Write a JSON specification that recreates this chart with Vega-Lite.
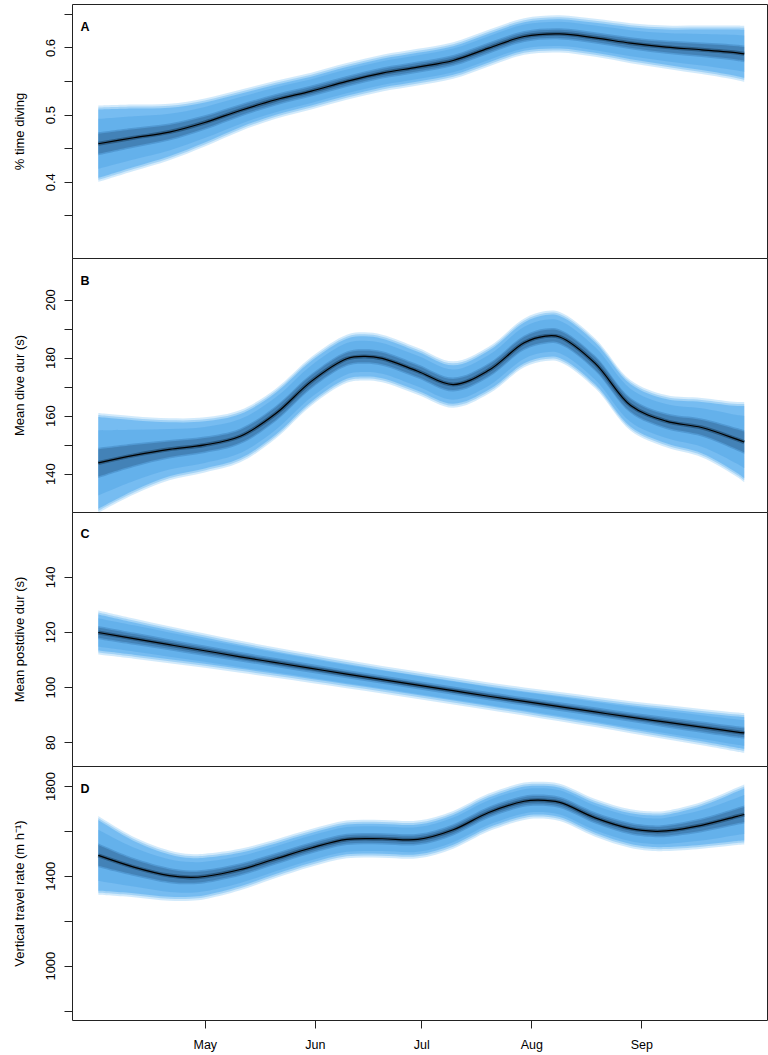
{
  "$schema": "https://vega.github.io/schema/vega-lite/v6.json",
  "padding": {"left": 12, "top": 3, "right": 2, "bottom": 5},
  "spacing": 0,
  "bounds": "flush",
  "config": {
    "font": "Liberation Sans",
    "view": {"stroke": "#222", "strokeWidth": 1},
    "axis": {"labelFont": "Liberation Sans", "titleFont": "Liberation Sans", "labelFontSize": 13, "titleFontSize": 13, "titleFontWeight": "normal", "labelFontWeight": "normal", "labelColor": "#000", "titleColor": "#000", "tickColor": "#222", "domain": false, "grid": false, "tickSize": 8, "labelOverlap": false, "labelFlush": false},
    "axisLeft": {"labelAngle": 270, "labelAlign": "center", "labelBaseline": "alphabetic", "labelPadding": 10, "minExtent": 28, "maxExtent": 28, "titlePadding": 18}
  },
  "resolve": {"scale": {"x": "independent", "y": "independent"}},
  "datasets": {
    "A": [
      {"date": "2013-04-01", "m": 0.4566, "lo1": 0.3996, "hi1": 0.5136, "lo2": 0.4195, "hi2": 0.4937, "lo3": 0.4395, "hi3": 0.4737},
      {"date": "2013-04-11", "m": 0.4655, "lo1": 0.4159, "hi1": 0.5151, "lo2": 0.4333, "hi2": 0.4977, "lo3": 0.4506, "hi3": 0.4804},
      {"date": "2013-04-21", "m": 0.474, "lo1": 0.432, "hi1": 0.516, "lo2": 0.4467, "hi2": 0.5013, "lo3": 0.4614, "hi3": 0.4866},
      {"date": "2013-05-01", "m": 0.4883, "lo1": 0.4526, "hi1": 0.524, "lo2": 0.4651, "hi2": 0.5115, "lo3": 0.4776, "hi3": 0.499},
      {"date": "2013-05-11", "m": 0.5062, "lo1": 0.4754, "hi1": 0.537, "lo2": 0.4862, "hi2": 0.5262, "lo3": 0.497, "hi3": 0.5154},
      {"date": "2013-05-21", "m": 0.5221, "lo1": 0.4938, "hi1": 0.5504, "lo2": 0.5037, "hi2": 0.5405, "lo3": 0.5136, "hi3": 0.5306},
      {"date": "2013-05-31", "m": 0.535, "lo1": 0.5077, "hi1": 0.5623, "lo2": 0.5173, "hi2": 0.5527, "lo3": 0.5268, "hi3": 0.5432},
      {"date": "2013-06-10", "m": 0.5494, "lo1": 0.5221, "hi1": 0.5767, "lo2": 0.5317, "hi2": 0.5671, "lo3": 0.5412, "hi3": 0.5576},
      {"date": "2013-06-20", "m": 0.5618, "lo1": 0.5345, "hi1": 0.5891, "lo2": 0.5441, "hi2": 0.5795, "lo3": 0.5536, "hi3": 0.57},
      {"date": "2013-06-30", "m": 0.5707, "lo1": 0.5434, "hi1": 0.598, "lo2": 0.553, "hi2": 0.5884, "lo3": 0.5625, "hi3": 0.5789},
      {"date": "2013-07-10", "m": 0.5806, "lo1": 0.5533, "hi1": 0.6079, "lo2": 0.5629, "hi2": 0.5983, "lo3": 0.5724, "hi3": 0.5888},
      {"date": "2013-07-20", "m": 0.599, "lo1": 0.5717, "hi1": 0.6263, "lo2": 0.5813, "hi2": 0.6167, "lo3": 0.5908, "hi3": 0.6072},
      {"date": "2013-07-30", "m": 0.6163, "lo1": 0.589, "hi1": 0.6436, "lo2": 0.5986, "hi2": 0.634, "lo3": 0.6081, "hi3": 0.6245},
      {"date": "2013-08-09", "m": 0.6203, "lo1": 0.5925, "hi1": 0.6481, "lo2": 0.6022, "hi2": 0.6384, "lo3": 0.612, "hi3": 0.6286},
      {"date": "2013-08-19", "m": 0.6143, "lo1": 0.586, "hi1": 0.6426, "lo2": 0.5959, "hi2": 0.6327, "lo3": 0.6058, "hi3": 0.6228},
      {"date": "2013-08-29", "m": 0.6064, "lo1": 0.5766, "hi1": 0.6362, "lo2": 0.587, "hi2": 0.6258, "lo3": 0.5975, "hi3": 0.6153},
      {"date": "2013-09-08", "m": 0.6005, "lo1": 0.5683, "hi1": 0.6327, "lo2": 0.5796, "hi2": 0.6214, "lo3": 0.5908, "hi3": 0.6102},
      {"date": "2013-09-18", "m": 0.5965, "lo1": 0.5603, "hi1": 0.6327, "lo2": 0.573, "hi2": 0.62, "lo3": 0.5856, "hi3": 0.6074},
      {"date": "2013-09-28", "m": 0.592, "lo1": 0.5513, "hi1": 0.6327, "lo2": 0.5655, "hi2": 0.6185, "lo3": 0.5798, "hi3": 0.6042},
      {"date": "2013-09-30", "m": 0.5905, "lo1": 0.5488, "hi1": 0.6322, "lo2": 0.5634, "hi2": 0.6176, "lo3": 0.578, "hi3": 0.603}
    ],
    "B": [
      {"date": "2013-04-01", "m": 143.7, "lo1": 126.5, "hi1": 160.9, "lo2": 132.5, "hi2": 154.9, "lo3": 138.5, "hi3": 148.9},
      {"date": "2013-04-11", "m": 146.3, "lo1": 132.8, "hi1": 159.8, "lo2": 137.5, "hi2": 155.1, "lo3": 142.3, "hi3": 150.4},
      {"date": "2013-04-21", "m": 148.4, "lo1": 137.7, "hi1": 159.1, "lo2": 141.4, "hi2": 155.4, "lo3": 145.2, "hi3": 151.6},
      {"date": "2013-05-01", "m": 149.9, "lo1": 140.4, "hi1": 159.4, "lo2": 143.7, "hi2": 156.1, "lo3": 147.1, "hi3": 152.8},
      {"date": "2013-05-11", "m": 152.9, "lo1": 143.9, "hi1": 161.9, "lo2": 147.1, "hi2": 158.8, "lo3": 150.2, "hi3": 155.6},
      {"date": "2013-05-21", "m": 160.7, "lo1": 152.1, "hi1": 169.3, "lo2": 155.1, "hi2": 166.3, "lo3": 158.1, "hi3": 163.3},
      {"date": "2013-05-31", "m": 171.8, "lo1": 163.4, "hi1": 180.2, "lo2": 166.3, "hi2": 177.3, "lo3": 169.3, "hi3": 174.3},
      {"date": "2013-06-10", "m": 179.6, "lo1": 171.3, "hi1": 187.9, "lo2": 174.2, "hi2": 185.0, "lo3": 177.1, "hi3": 182.1},
      {"date": "2013-06-15", "m": 180.4, "lo1": 172.1, "hi1": 188.7, "lo2": 175.0, "hi2": 185.8, "lo3": 177.9, "hi3": 182.9},
      {"date": "2013-06-20", "m": 179.7, "lo1": 171.5, "hi1": 187.9, "lo2": 174.4, "hi2": 185.0, "lo3": 177.2, "hi3": 182.2},
      {"date": "2013-06-30", "m": 175.3, "lo1": 167.2, "hi1": 183.4, "lo2": 170.0, "hi2": 180.6, "lo3": 172.9, "hi3": 177.7},
      {"date": "2013-07-10", "m": 170.7, "lo1": 162.7, "hi1": 178.7, "lo2": 165.5, "hi2": 175.9, "lo3": 168.3, "hi3": 173.1},
      {"date": "2013-07-20", "m": 175.6, "lo1": 167.5, "hi1": 183.7, "lo2": 170.3, "hi2": 180.9, "lo3": 173.2, "hi3": 178.0},
      {"date": "2013-07-30", "m": 185.1, "lo1": 176.7, "hi1": 193.5, "lo2": 179.6, "hi2": 190.6, "lo3": 182.6, "hi3": 187.6},
      {"date": "2013-08-05", "m": 187.4, "lo1": 178.8, "hi1": 196.0, "lo2": 181.8, "hi2": 193.0, "lo3": 184.8, "hi3": 190.0},
      {"date": "2013-08-09", "m": 187.1, "lo1": 178.5, "hi1": 195.7, "lo2": 181.5, "hi2": 192.7, "lo3": 184.5, "hi3": 189.7},
      {"date": "2013-08-19", "m": 178.0, "lo1": 169.4, "hi1": 186.6, "lo2": 172.4, "hi2": 183.6, "lo3": 175.4, "hi3": 180.6},
      {"date": "2013-08-29", "m": 163.5, "lo1": 154.8, "hi1": 172.2, "lo2": 157.8, "hi2": 169.2, "lo3": 160.9, "hi3": 166.1},
      {"date": "2013-09-08", "m": 158.1, "lo1": 149.1, "hi1": 167.1, "lo2": 152.3, "hi2": 164.0, "lo3": 155.4, "hi3": 160.8},
      {"date": "2013-09-18", "m": 155.9, "lo1": 145.7, "hi1": 166.1, "lo2": 149.3, "hi2": 162.5, "lo3": 152.8, "hi3": 159.0},
      {"date": "2013-09-28", "m": 151.8, "lo1": 138.9, "hi1": 164.7, "lo2": 143.4, "hi2": 160.2, "lo3": 147.9, "hi3": 155.7},
      {"date": "2013-09-30", "m": 150.9, "lo1": 137.1, "hi1": 164.7, "lo2": 141.9, "hi2": 159.9, "lo3": 146.8, "hi3": 155.0}
    ],
    "C": [
      {"date": "2013-04-01", "m": 119.8, "lo1": 111.8, "hi1": 127.8, "lo2": 114.6, "hi2": 125.0, "lo3": 117.4, "hi3": 122.2},
      {"date": "2013-04-11", "m": 117.6, "lo1": 110.3, "hi1": 124.9, "lo2": 112.9, "hi2": 122.4, "lo3": 115.4, "hi3": 119.8},
      {"date": "2013-04-21", "m": 115.4, "lo1": 108.7, "hi1": 122.1, "lo2": 111.0, "hi2": 119.8, "lo3": 113.4, "hi3": 117.4},
      {"date": "2013-05-01", "m": 113.2, "lo1": 107.0, "hi1": 119.4, "lo2": 109.2, "hi2": 117.2, "lo3": 111.3, "hi3": 115.1},
      {"date": "2013-05-11", "m": 111.0, "lo1": 105.2, "hi1": 116.8, "lo2": 107.2, "hi2": 114.8, "lo3": 109.3, "hi3": 112.7},
      {"date": "2013-05-21", "m": 108.9, "lo1": 103.4, "hi1": 114.4, "lo2": 105.3, "hi2": 112.5, "lo3": 107.3, "hi3": 110.6},
      {"date": "2013-05-31", "m": 106.8, "lo1": 101.5, "hi1": 112.1, "lo2": 103.4, "hi2": 110.3, "lo3": 105.2, "hi3": 108.4},
      {"date": "2013-06-10", "m": 104.7, "lo1": 99.6, "hi1": 109.8, "lo2": 101.4, "hi2": 108.0, "lo3": 103.2, "hi3": 106.2},
      {"date": "2013-06-20", "m": 102.7, "lo1": 97.7, "hi1": 107.7, "lo2": 99.5, "hi2": 106.0, "lo3": 101.2, "hi3": 104.2},
      {"date": "2013-06-30", "m": 100.7, "lo1": 95.7, "hi1": 105.7, "lo2": 97.5, "hi2": 104.0, "lo3": 99.2, "hi3": 102.2},
      {"date": "2013-07-10", "m": 98.7, "lo1": 93.7, "hi1": 103.7, "lo2": 95.5, "hi2": 102.0, "lo3": 97.2, "hi3": 100.2},
      {"date": "2013-07-20", "m": 96.7, "lo1": 91.7, "hi1": 101.7, "lo2": 93.5, "hi2": 100.0, "lo3": 95.2, "hi3": 98.2},
      {"date": "2013-07-30", "m": 94.8, "lo1": 89.7, "hi1": 99.9, "lo2": 91.5, "hi2": 98.1, "lo3": 93.3, "hi3": 96.3},
      {"date": "2013-08-09", "m": 92.9, "lo1": 87.6, "hi1": 98.2, "lo2": 89.5, "hi2": 96.4, "lo3": 91.3, "hi3": 94.5},
      {"date": "2013-08-19", "m": 91.0, "lo1": 85.5, "hi1": 96.5, "lo2": 87.4, "hi2": 94.6, "lo3": 89.4, "hi3": 92.7},
      {"date": "2013-08-29", "m": 89.1, "lo1": 83.3, "hi1": 94.9, "lo2": 85.3, "hi2": 92.9, "lo3": 87.4, "hi3": 90.8},
      {"date": "2013-09-08", "m": 87.3, "lo1": 81.1, "hi1": 93.5, "lo2": 83.3, "hi2": 91.3, "lo3": 85.4, "hi3": 89.2},
      {"date": "2013-09-18", "m": 85.5, "lo1": 78.9, "hi1": 92.1, "lo2": 81.2, "hi2": 89.8, "lo3": 83.5, "hi3": 87.5},
      {"date": "2013-09-28", "m": 83.7, "lo1": 76.6, "hi1": 90.8, "lo2": 79.1, "hi2": 88.3, "lo3": 81.6, "hi3": 85.8},
      {"date": "2013-09-30", "m": 83.4, "lo1": 76.2, "hi1": 90.6, "lo2": 78.7, "hi2": 88.1, "lo3": 81.2, "hi3": 85.6}
    ],
    "D": [
      {"date": "2013-04-01", "m": 1491, "lo1": 1316, "hi1": 1666, "lo2": 1377, "hi2": 1605, "lo3": 1438, "hi3": 1544},
      {"date": "2013-04-11", "m": 1439, "lo1": 1305, "hi1": 1573, "lo2": 1352, "hi2": 1526, "lo3": 1399, "hi3": 1479},
      {"date": "2013-04-21", "m": 1401, "lo1": 1289, "hi1": 1513, "lo2": 1328, "hi2": 1474, "lo3": 1367, "hi3": 1435},
      {"date": "2013-04-27", "m": 1393, "lo1": 1289, "hi1": 1497, "lo2": 1325, "hi2": 1461, "lo3": 1362, "hi3": 1424},
      {"date": "2013-05-01", "m": 1397, "lo1": 1296, "hi1": 1498, "lo2": 1331, "hi2": 1463, "lo3": 1367, "hi3": 1427},
      {"date": "2013-05-11", "m": 1428, "lo1": 1336, "hi1": 1520, "lo2": 1368, "hi2": 1488, "lo3": 1400, "hi3": 1456},
      {"date": "2013-05-21", "m": 1476, "lo1": 1390, "hi1": 1562, "lo2": 1420, "hi2": 1532, "lo3": 1450, "hi3": 1502},
      {"date": "2013-05-31", "m": 1524, "lo1": 1440, "hi1": 1608, "lo2": 1469, "hi2": 1579, "lo3": 1499, "hi3": 1549},
      {"date": "2013-06-10", "m": 1562, "lo1": 1478, "hi1": 1646, "lo2": 1507, "hi2": 1617, "lo3": 1537, "hi3": 1587},
      {"date": "2013-06-20", "m": 1565, "lo1": 1481, "hi1": 1649, "lo2": 1510, "hi2": 1620, "lo3": 1540, "hi3": 1590},
      {"date": "2013-06-30", "m": 1562, "lo1": 1478, "hi1": 1646, "lo2": 1507, "hi2": 1617, "lo3": 1537, "hi3": 1587},
      {"date": "2013-07-10", "m": 1605, "lo1": 1521, "hi1": 1689, "lo2": 1550, "hi2": 1660, "lo3": 1580, "hi3": 1630},
      {"date": "2013-07-20", "m": 1682, "lo1": 1598, "hi1": 1766, "lo2": 1627, "hi2": 1737, "lo3": 1657, "hi3": 1707},
      {"date": "2013-07-30", "m": 1732, "lo1": 1649, "hi1": 1815, "lo2": 1678, "hi2": 1786, "lo3": 1707, "hi3": 1757},
      {"date": "2013-08-03", "m": 1737, "lo1": 1655, "hi1": 1819, "lo2": 1684, "hi2": 1790, "lo3": 1712, "hi3": 1762},
      {"date": "2013-08-09", "m": 1727, "lo1": 1644, "hi1": 1810, "lo2": 1673, "hi2": 1781, "lo3": 1702, "hi3": 1752},
      {"date": "2013-08-19", "m": 1658, "lo1": 1574, "hi1": 1742, "lo2": 1603, "hi2": 1713, "lo3": 1633, "hi3": 1683},
      {"date": "2013-08-29", "m": 1610, "lo1": 1524, "hi1": 1696, "lo2": 1554, "hi2": 1666, "lo3": 1584, "hi3": 1636},
      {"date": "2013-09-05", "m": 1598, "lo1": 1510, "hi1": 1686, "lo2": 1541, "hi2": 1655, "lo3": 1572, "hi3": 1624},
      {"date": "2013-09-08", "m": 1600, "lo1": 1510, "hi1": 1690, "lo2": 1542, "hi2": 1659, "lo3": 1573, "hi3": 1627},
      {"date": "2013-09-18", "m": 1625, "lo1": 1521, "hi1": 1729, "lo2": 1557, "hi2": 1693, "lo3": 1594, "hi3": 1656},
      {"date": "2013-09-28", "m": 1665, "lo1": 1537, "hi1": 1793, "lo2": 1582, "hi2": 1748, "lo3": 1627, "hi3": 1703},
      {"date": "2013-09-30", "m": 1673, "lo1": 1539, "hi1": 1807, "lo2": 1586, "hi2": 1760, "lo3": 1633, "hi3": 1713}
    ]
  },
  "vconcat": [
    {
      "width": 695, "height": 254,
      "data": {"name": "A"},
      "layer": [
        {"mark": {"type": "area", "interpolate": "catmull-rom", "color": "#a6d6f7", "opacity": 0.5, "clip": true},
         "encoding": {
           "x": {"field": "date", "type": "temporal", "scale": {"type": "utc", "domain": [{"year": 2013, "month": 3, "date": 24, "hours": 14, "utc": true}, {"year": 2013, "month": 10, "date": 6, "hours": 10, "utc": true}]}, "axis": null},
           "y": {"field": "lo1", "type": "quantitative", "title": "% time diving", "scale": {"domain": [0.2865, 0.6647], "nice": false, "zero": false},
                 "axis": {"values": [0.35, 0.4, 0.45, 0.5, 0.55, 0.6, 0.65], "format": ".1f", "labelExpr": "indexof([0.4, 0.5, 0.6], datum.value) >= 0 ? datum.label : ''"}},
           "y2": {"field": "hi1"}}},
        {"mark": {"type": "area", "interpolate": "catmull-rom", "color": "#7cc0f3", "opacity": 0.55, "yOffset": -2, "y2Offset": 2, "clip": true},
         "encoding": {"x": {"field": "date", "type": "temporal"}, "y": {"field": "lo1", "type": "quantitative", "title": "% time diving"}, "y2": {"field": "hi1"}}},
        {"mark": {"type": "area", "interpolate": "catmull-rom", "color": "#58adee", "opacity": 0.6, "yOffset": -4, "y2Offset": 4, "clip": true},
         "encoding": {"x": {"field": "date", "type": "temporal"}, "y": {"field": "lo1", "type": "quantitative", "title": "% time diving"}, "y2": {"field": "hi1"}}},
        {"mark": {"type": "area", "interpolate": "catmull-rom", "color": "#4a9fe4", "opacity": 0.4, "clip": true},
         "encoding": {"x": {"field": "date", "type": "temporal"}, "y": {"field": "lo2", "type": "quantitative", "title": "% time diving"}, "y2": {"field": "hi2"}}},
        {"mark": {"type": "area", "interpolate": "catmull-rom", "color": "#2d6ca5", "opacity": 0.35, "clip": true},
         "encoding": {"x": {"field": "date", "type": "temporal"}, "y": {"field": "lo3", "type": "quantitative", "title": "% time diving"}, "y2": {"field": "hi3"}}},
        {"mark": {"type": "area", "interpolate": "catmull-rom", "color": "#244f78", "opacity": 0.3, "yOffset": -1.5, "y2Offset": 1.5, "clip": true},
         "encoding": {"x": {"field": "date", "type": "temporal"}, "y": {"field": "lo3", "type": "quantitative", "title": "% time diving"}, "y2": {"field": "hi3"}}},
        {"mark": {"type": "line", "interpolate": "catmull-rom", "color": "#15304a", "strokeWidth": 4, "opacity": 0.45, "clip": true},
         "encoding": {"x": {"field": "date", "type": "temporal"}, "y": {"field": "m", "type": "quantitative", "title": "% time diving"}}},
        {"mark": {"type": "line", "interpolate": "catmull-rom", "color": "#000", "strokeWidth": 1.2, "clip": true},
         "encoding": {"x": {"field": "date", "type": "temporal"}, "y": {"field": "m", "type": "quantitative", "title": "% time diving"}}},
        {"data": {"values": [{"label": "A"}]},
         "mark": {"type": "text", "align": "left", "baseline": "alphabetic", "fontWeight": "bold", "fontSize": 12.5, "font": "Liberation Sans", "color": "#000"},
         "encoding": {"x": {"datum": {"year": 2013, "month": 3, "date": 27, "utc": true}, "type": "temporal"}, "y": {"datum": 0.6242, "type": "quantitative"}, "text": {"field": "label"}}}
      ]
    },
    {
      "width": 695, "height": 254,
      "data": {"name": "B"},
      "layer": [
        {"mark": {"type": "area", "interpolate": "catmull-rom", "color": "#a6d6f7", "opacity": 0.5, "clip": true},
         "encoding": {
           "x": {"field": "date", "type": "temporal", "scale": {"type": "utc", "domain": [{"year": 2013, "month": 3, "date": 24, "hours": 14, "utc": true}, {"year": 2013, "month": 10, "date": 6, "hours": 10, "utc": true}]}, "axis": null},
           "y": {"field": "lo1", "type": "quantitative", "title": "Mean dive dur (s)", "scale": {"domain": [126.8, 214.3], "nice": false, "zero": false},
                 "axis": {"values": [140, 150, 160, 170, 180, 190, 200], "format": "d", "labelExpr": "indexof([140, 160, 180, 200], datum.value) >= 0 ? datum.label : ''"}},
           "y2": {"field": "hi1"}}},
        {"mark": {"type": "area", "interpolate": "catmull-rom", "color": "#7cc0f3", "opacity": 0.55, "yOffset": -2, "y2Offset": 2, "clip": true},
         "encoding": {"x": {"field": "date", "type": "temporal"}, "y": {"field": "lo1", "type": "quantitative", "title": "Mean dive dur (s)"}, "y2": {"field": "hi1"}}},
        {"mark": {"type": "area", "interpolate": "catmull-rom", "color": "#58adee", "opacity": 0.6, "yOffset": -4, "y2Offset": 4, "clip": true},
         "encoding": {"x": {"field": "date", "type": "temporal"}, "y": {"field": "lo1", "type": "quantitative", "title": "Mean dive dur (s)"}, "y2": {"field": "hi1"}}},
        {"mark": {"type": "area", "interpolate": "catmull-rom", "color": "#4a9fe4", "opacity": 0.4, "clip": true},
         "encoding": {"x": {"field": "date", "type": "temporal"}, "y": {"field": "lo2", "type": "quantitative", "title": "Mean dive dur (s)"}, "y2": {"field": "hi2"}}},
        {"mark": {"type": "area", "interpolate": "catmull-rom", "color": "#2d6ca5", "opacity": 0.35, "clip": true},
         "encoding": {"x": {"field": "date", "type": "temporal"}, "y": {"field": "lo3", "type": "quantitative", "title": "Mean dive dur (s)"}, "y2": {"field": "hi3"}}},
        {"mark": {"type": "area", "interpolate": "catmull-rom", "color": "#244f78", "opacity": 0.3, "yOffset": -1.5, "y2Offset": 1.5, "clip": true},
         "encoding": {"x": {"field": "date", "type": "temporal"}, "y": {"field": "lo3", "type": "quantitative", "title": "Mean dive dur (s)"}, "y2": {"field": "hi3"}}},
        {"mark": {"type": "line", "interpolate": "catmull-rom", "color": "#15304a", "strokeWidth": 4, "opacity": 0.45, "clip": true},
         "encoding": {"x": {"field": "date", "type": "temporal"}, "y": {"field": "m", "type": "quantitative", "title": "Mean dive dur (s)"}}},
        {"mark": {"type": "line", "interpolate": "catmull-rom", "color": "#000", "strokeWidth": 1.2, "clip": true},
         "encoding": {"x": {"field": "date", "type": "temporal"}, "y": {"field": "m", "type": "quantitative", "title": "Mean dive dur (s)"}}},
        {"data": {"values": [{"label": "B"}]},
         "mark": {"type": "text", "align": "left", "baseline": "alphabetic", "fontWeight": "bold", "fontSize": 12.5, "font": "Liberation Sans", "color": "#000"},
         "encoding": {"x": {"datum": {"year": 2013, "month": 3, "date": 27, "utc": true}, "type": "temporal"}, "y": {"datum": 205.1, "type": "quantitative"}, "text": {"field": "label"}}}
      ]
    },
    {
      "width": 695, "height": 254,
      "data": {"name": "C"},
      "layer": [
        {"mark": {"type": "area", "interpolate": "catmull-rom", "color": "#a6d6f7", "opacity": 0.5, "clip": true},
         "encoding": {
           "x": {"field": "date", "type": "temporal", "scale": {"type": "utc", "domain": [{"year": 2013, "month": 3, "date": 24, "hours": 14, "utc": true}, {"year": 2013, "month": 10, "date": 6, "hours": 10, "utc": true}]}, "axis": null},
           "y": {"field": "lo1", "type": "quantitative", "title": "Mean postdive dur (s)", "scale": {"domain": [71.4, 163.5], "nice": false, "zero": false},
                 "axis": {"values": [80, 90, 100, 110, 120, 130, 140, 150], "format": "d", "labelExpr": "indexof([80, 100, 120, 140], datum.value) >= 0 ? datum.label : ''"}},
           "y2": {"field": "hi1"}}},
        {"mark": {"type": "area", "interpolate": "catmull-rom", "color": "#7cc0f3", "opacity": 0.55, "yOffset": -2, "y2Offset": 2, "clip": true},
         "encoding": {"x": {"field": "date", "type": "temporal"}, "y": {"field": "lo1", "type": "quantitative", "title": "Mean postdive dur (s)"}, "y2": {"field": "hi1"}}},
        {"mark": {"type": "area", "interpolate": "catmull-rom", "color": "#58adee", "opacity": 0.6, "yOffset": -4, "y2Offset": 4, "clip": true},
         "encoding": {"x": {"field": "date", "type": "temporal"}, "y": {"field": "lo1", "type": "quantitative", "title": "Mean postdive dur (s)"}, "y2": {"field": "hi1"}}},
        {"mark": {"type": "area", "interpolate": "catmull-rom", "color": "#4a9fe4", "opacity": 0.4, "clip": true},
         "encoding": {"x": {"field": "date", "type": "temporal"}, "y": {"field": "lo2", "type": "quantitative", "title": "Mean postdive dur (s)"}, "y2": {"field": "hi2"}}},
        {"mark": {"type": "area", "interpolate": "catmull-rom", "color": "#2d6ca5", "opacity": 0.35, "clip": true},
         "encoding": {"x": {"field": "date", "type": "temporal"}, "y": {"field": "lo3", "type": "quantitative", "title": "Mean postdive dur (s)"}, "y2": {"field": "hi3"}}},
        {"mark": {"type": "area", "interpolate": "catmull-rom", "color": "#244f78", "opacity": 0.3, "yOffset": -1.5, "y2Offset": 1.5, "clip": true},
         "encoding": {"x": {"field": "date", "type": "temporal"}, "y": {"field": "lo3", "type": "quantitative", "title": "Mean postdive dur (s)"}, "y2": {"field": "hi3"}}},
        {"mark": {"type": "line", "interpolate": "catmull-rom", "color": "#15304a", "strokeWidth": 4, "opacity": 0.45, "clip": true},
         "encoding": {"x": {"field": "date", "type": "temporal"}, "y": {"field": "m", "type": "quantitative", "title": "Mean postdive dur (s)"}}},
        {"mark": {"type": "line", "interpolate": "catmull-rom", "color": "#000", "strokeWidth": 1.2, "clip": true},
         "encoding": {"x": {"field": "date", "type": "temporal"}, "y": {"field": "m", "type": "quantitative", "title": "Mean postdive dur (s)"}}},
        {"data": {"values": [{"label": "C"}]},
         "mark": {"type": "text", "align": "left", "baseline": "alphabetic", "fontWeight": "bold", "fontSize": 12.5, "font": "Liberation Sans", "color": "#000"},
         "encoding": {"x": {"datum": {"year": 2013, "month": 3, "date": 27, "utc": true}, "type": "temporal"}, "y": {"datum": 153.9, "type": "quantitative"}, "text": {"field": "label"}}}
      ]
    },
    {
      "width": 695, "height": 254,
      "data": {"name": "D"},
      "layer": [
        {"mark": {"type": "area", "interpolate": "catmull-rom", "color": "#a6d6f7", "opacity": 0.5, "clip": true},
         "encoding": {
           "x": {"field": "date", "type": "temporal", "title": null, "scale": {"type": "utc", "domain": [{"year": 2013, "month": 3, "date": 24, "hours": 14, "utc": true}, {"year": 2013, "month": 10, "date": 6, "hours": 10, "utc": true}]},
                 "axis": {"values": [{"year": 2013, "month": 5, "date": 1, "utc": true}, {"year": 2013, "month": 6, "date": 1, "utc": true}, {"year": 2013, "month": 7, "date": 1, "utc": true}, {"year": 2013, "month": 8, "date": 1, "utc": true}, {"year": 2013, "month": 9, "date": 1, "utc": true}], "format": "%b", "labelFontSize": 12.5, "labelFontWeight": "normal", "labelPadding": 10, "labelAngle": 0}},
           "y": {"field": "lo1", "type": "quantitative", "title": "Vertical travel rate (m h⁻¹)", "scale": {"domain": [758, 1889], "nice": false, "zero": false},
                 "axis": {"values": [800, 1000, 1200, 1400, 1600, 1800], "format": "d", "labelExpr": "indexof([1000, 1400, 1800], datum.value) >= 0 ? datum.label : ''"}},
           "y2": {"field": "hi1"}}},
        {"mark": {"type": "area", "interpolate": "catmull-rom", "color": "#7cc0f3", "opacity": 0.55, "yOffset": -2, "y2Offset": 2, "clip": true},
         "encoding": {"x": {"field": "date", "type": "temporal", "title": null}, "y": {"field": "lo1", "type": "quantitative", "title": "Vertical travel rate (m h⁻¹)"}, "y2": {"field": "hi1"}}},
        {"mark": {"type": "area", "interpolate": "catmull-rom", "color": "#58adee", "opacity": 0.6, "yOffset": -4, "y2Offset": 4, "clip": true},
         "encoding": {"x": {"field": "date", "type": "temporal", "title": null}, "y": {"field": "lo1", "type": "quantitative", "title": "Vertical travel rate (m h⁻¹)"}, "y2": {"field": "hi1"}}},
        {"mark": {"type": "area", "interpolate": "catmull-rom", "color": "#4a9fe4", "opacity": 0.4, "clip": true},
         "encoding": {"x": {"field": "date", "type": "temporal", "title": null}, "y": {"field": "lo2", "type": "quantitative", "title": "Vertical travel rate (m h⁻¹)"}, "y2": {"field": "hi2"}}},
        {"mark": {"type": "area", "interpolate": "catmull-rom", "color": "#2d6ca5", "opacity": 0.35, "clip": true},
         "encoding": {"x": {"field": "date", "type": "temporal", "title": null}, "y": {"field": "lo3", "type": "quantitative", "title": "Vertical travel rate (m h⁻¹)"}, "y2": {"field": "hi3"}}},
        {"mark": {"type": "area", "interpolate": "catmull-rom", "color": "#244f78", "opacity": 0.3, "yOffset": -1.5, "y2Offset": 1.5, "clip": true},
         "encoding": {"x": {"field": "date", "type": "temporal", "title": null}, "y": {"field": "lo3", "type": "quantitative", "title": "Vertical travel rate (m h⁻¹)"}, "y2": {"field": "hi3"}}},
        {"mark": {"type": "line", "interpolate": "catmull-rom", "color": "#15304a", "strokeWidth": 4, "opacity": 0.45, "clip": true},
         "encoding": {"x": {"field": "date", "type": "temporal", "title": null}, "y": {"field": "m", "type": "quantitative", "title": "Vertical travel rate (m h⁻¹)"}}},
        {"mark": {"type": "line", "interpolate": "catmull-rom", "color": "#000", "strokeWidth": 1.2, "clip": true},
         "encoding": {"x": {"field": "date", "type": "temporal", "title": null}, "y": {"field": "m", "type": "quantitative", "title": "Vertical travel rate (m h⁻¹)"}}},
        {"data": {"values": [{"label": "D"}]},
         "mark": {"type": "text", "align": "left", "baseline": "alphabetic", "fontWeight": "bold", "fontSize": 12.5, "font": "Liberation Sans", "color": "#000"},
         "encoding": {"x": {"datum": {"year": 2013, "month": 3, "date": 27, "utc": true}, "type": "temporal"}, "y": {"datum": 1768, "type": "quantitative"}, "text": {"field": "label"}}}
      ]
    }
  ]
}
